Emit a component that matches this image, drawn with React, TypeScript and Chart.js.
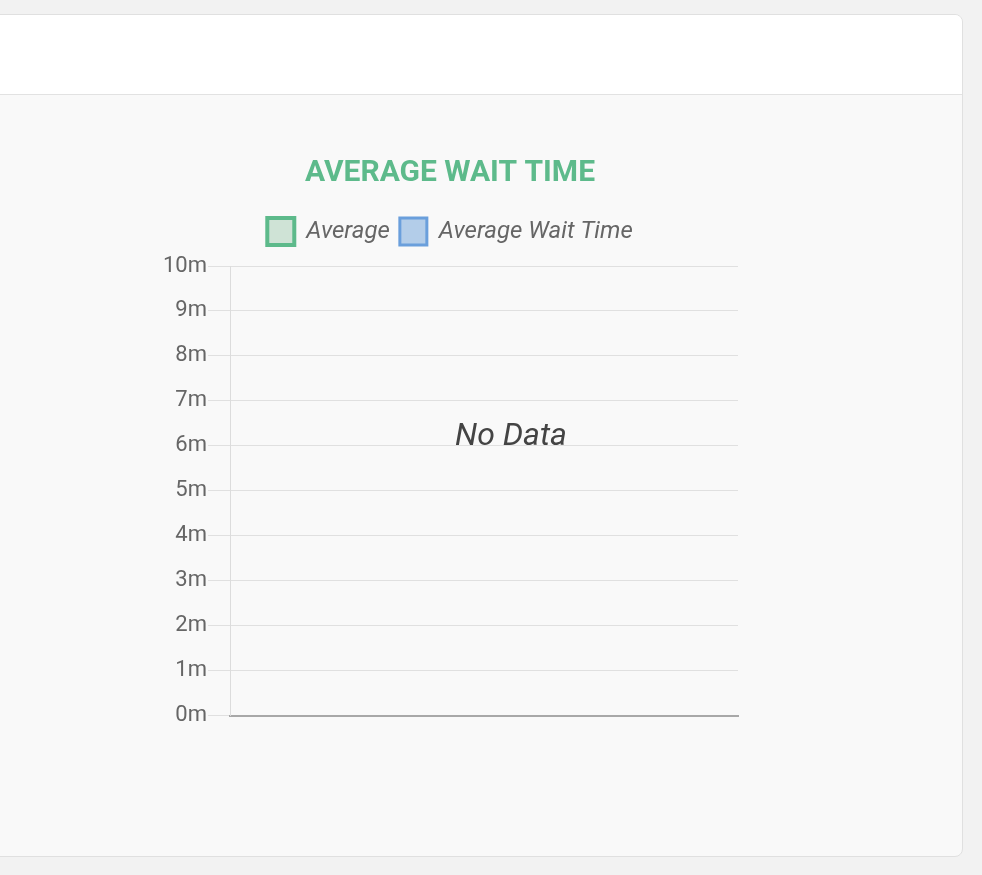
import { Chart, registerables, type ChartConfiguration, type Plugin } from "chart.js";
import { useEffect, useRef } from "react";

Chart.register(...registerables);

// no rows came back for this period, so both series are empty
const categories: string[] = [];
const averageValues: number[] = [];
const waitTimeValues: number[] = [];
const yTickValues = [0, 1, 2, 3, 4, 5, 6, 7, 8, 9, 10];

const FONT = "Roboto, 'Noto Sans', sans-serif";

// a little extra room between the legend and the plot
const legendGap: Plugin = {
  id: "legendGap",
  beforeInit(chart) {
    const legend = chart.legend as any;
    if (!legend) return;
    const originalFit = legend.fit;
    legend.fit = function fit() {
      originalFit.bind(legend)();
      this.height += 11;
    };
  },
};

const WaitTimeChart = () => {
  const canvasRef = useRef<HTMLCanvasElement | null>(null);
  const chartRef = useRef<Chart | null>(null);

  useEffect(() => {
    if (!canvasRef.current) return;
    chartRef.current?.destroy();

    const config: ChartConfiguration<"bar" | "line", number[], string> = {
      type: "bar",
      data: {
        labels: categories,
        datasets: [
          {
            type: "line",
            label: "Average",
            data: averageValues,
            borderColor: "#5dba8b",
            backgroundColor: "#cfe3d6",
            borderWidth: 4,
            pointRadius: 0,
            fill: false,
          },
          {
            type: "bar",
            label: "Average Wait Time",
            data: waitTimeValues,
            borderColor: "#6a9fdc",
            backgroundColor: "#b3cde9",
            borderWidth: 3,
          },
        ],
      },
      options: {
        animation: false,
        responsive: true,
        maintainAspectRatio: false,
        layout: { padding: { top: 0, bottom: 0, left: 0, right: 9 } },
        plugins: {
          title: {
            display: true,
            text: "AVERAGE WAIT TIME",
            color: "#5dba8b",
            font: { family: FONT, size: 30, weight: "bold" },
            padding: { top: 5, bottom: 17 },
          },
          legend: {
            display: true,
            labels: {
              boxWidth: 27,
              boxHeight: 27,
              padding: 10,
              color: "#666",
              font: { family: FONT, size: 24, style: "italic" },
            },
          },
          tooltip: { enabled: false },
        },
        scales: {
          x: {
            grid: { display: false },
            ticks: { display: false },
            border: { display: true, color: "#a8a8a8", width: 2 },
          },
          y: {
            min: 0,
            max: 10,
            afterBuildTicks: (axis) => {
              axis.ticks = yTickValues.map((value) => ({ value }));
            },
            ticks: {
              color: "#666",
              padding: 1,
              font: { family: FONT, size: 22 },
              callback: (value) => `${value}m`,
            },
            grid: { color: "#e0e0e0", tickLength: 22, lineWidth: 1 },
            border: { color: "#dcdcdc", width: 1 },
          },
        },
      },
      plugins: [legendGap],
    };

    chartRef.current = new Chart(canvasRef.current, config as ChartConfiguration);

    return () => {
      chartRef.current?.destroy();
      chartRef.current = null;
    };
  }, []);

  return (
    <div style={{ position: "absolute", left: 162, top: 150, width: 585, height: 580 }}>
      <canvas ref={canvasRef}></canvas>
    </div>
  );
};

export default function App() {
  return (
    <div
      style={{
        position: "fixed",
        inset: 0,
        background: "#f2f2f2",
        fontFamily: FONT,
        overflow: "hidden",
      }}
    >
      <div
        style={{
          position: "absolute",
          left: -20,
          top: 14,
          width: 981,
          height: 841,
          border: "1px solid #e0e0e0",
          borderRadius: 8,
          background: "#f9f9f9",
          overflow: "hidden",
        }}
      >
        <div style={{ height: 79, background: "#fff", borderBottom: "1px solid #e2e2e2" }} />
      </div>
      <WaitTimeChart />
      <div
        style={{
          position: "absolute",
          left: 361,
          top: 415,
          width: 300,
          textAlign: "center",
          fontSize: 32,
          lineHeight: "38px",
          fontStyle: "italic",
          color: "#444",
        }}
      >
        No Data
      </div>
    </div>
  );
}
